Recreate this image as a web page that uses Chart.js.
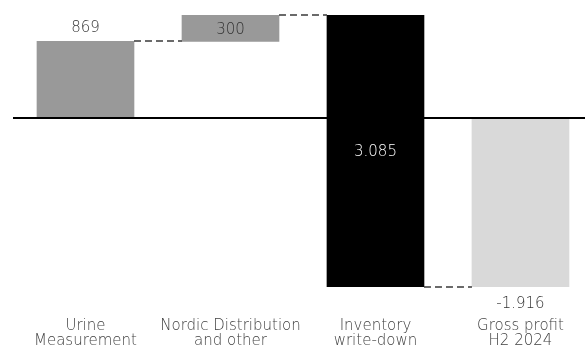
<!DOCTYPE html>
<html>
<head>
<meta charset="utf-8">
<script src="https://cdn.jsdelivr.net/npm/chart.js@4"></script>
<style>
  html, body { margin: 0; padding: 0; background: #fff; }
  #wrap { width: 585px; height: 347px; position: relative; }
</style>
</head>
<body>
<div id="wrap"><canvas id="c"></canvas></div>
<script>
// Gross profit bridge, H2 2024 (DKK thousand)
const categories = [
  ["Urine", "Measurement"],
  ["Nordic Distribution", "and other"],
  ["Inventory", "write-down"],
  ["Gross profit", "H2 2024"]
];
const changes = [869, 300, -3085];
const total = -1916;
const barColors = ["#999999", "#999999", "#000000", "#d9d9d9"];
const labelColors = ["#333333", "#333333", "#ffffff", "#333333"];
const labelPlacement = ["above", "center", "center", "below"];

// Build floating bar ranges from the running total
const ranges = [];
let running = 0;
changes.forEach(v => {
  ranges.push([running, running + v]);
  running += v;
});
ranges.push([0, total]);
const labelValues = changes.map(v => Math.abs(v)).concat([total]);

function fmt(n) {
  const s = Math.abs(n).toString().replace(/\B(?=(\d{3})+(?!\d))/g, ".");
  return (n < 0 ? "-" : "") + s;
}

const FONT = "'DejaVu Sans', sans-serif";

const bridgePlugin = {
  id: "bridge",
  afterDatasetsDraw(chart) {
    const { ctx, chartArea, scales } = chart;
    const y = scales.y;
    const meta = chart.getDatasetMeta(0);
    ctx.save();
    // dashed connectors between consecutive bars
    ctx.strokeStyle = "#3a3a3a";
    ctx.lineWidth = 1.5;
    ctx.setLineDash([7, 4]);
    for (let i = 0; i < meta.data.length - 1; i++) {
      const a = meta.data[i], b = meta.data[i + 1];
      const py = Math.round(y.getPixelForValue(ranges[i][1]));
      ctx.beginPath();
      ctx.moveTo(a.x + a.width / 2, py);
      ctx.lineTo(b.x - b.width / 2, py);
      ctx.stroke();
    }
    ctx.setLineDash([]);
    // baseline at zero
    const y0 = y.getPixelForValue(0);
    ctx.strokeStyle = "#000";
    ctx.lineWidth = 2;
    ctx.beginPath();
    ctx.moveTo(chartArea.left, y0);
    ctx.lineTo(chartArea.right, y0);
    ctx.stroke();
    // value labels
    ctx.font = "200 15px " + FONT;
    ctx.textAlign = "center";
    ctx.textBaseline = "middle";
    meta.data.forEach((bar, i) => {
      const top = Math.min(bar.y, bar.base);
      const bottom = Math.max(bar.y, bar.base);
      let ly;
      if (labelPlacement[i] === "above") ly = top - 13;
      else if (labelPlacement[i] === "below") ly = bottom + 17;
      else ly = (top + bottom) / 2 + 1.5;
      ctx.fillStyle = labelColors[i];
      ctx.fillText(fmt(labelValues[i]), bar.x, ly);
    });
    ctx.restore();
  }
};

new Chart(document.getElementById("c"), {
  type: "bar",
  data: {
    datasets: [{
      data: ranges.map((r, i) => ({ x: i, y: r })),
      backgroundColor: barColors,
      borderWidth: 0,
      barThickness: 97
    }]
  },
  options: {
    responsive: true,
    maintainAspectRatio: false,
    animation: false,
    layout: { padding: { top: 15, left: 13, right: 0, bottom: 0 } },
    plugins: { legend: { display: false }, tooltip: { enabled: false } },
    scales: {
      x: {
        type: "linear",
        offset: false,
        min: -0.5,
        max: 3.445,
        grid: { display: false, drawTicks: false },
        border: { display: false },
        afterBuildTicks: axis => { axis.ticks = categories.map((_, i) => ({ value: i })); },
        afterFit: axis => {
          axis.height = 60;
          axis.paddingLeft = 0;
          axis.paddingRight = 0;
        },
        ticks: {
          autoSkip: false,
          maxRotation: 0,
          padding: 32,
          color: "#404040",
          font: { family: FONT, size: 15, weight: 200, lineHeight: 1 },
          callback: v => categories[v]
        }
      },
      y: {
        display: false,
        min: -1916,
        max: 1169
      }
    }
  },
  plugins: [bridgePlugin]
});
</script>
</body>
</html>
